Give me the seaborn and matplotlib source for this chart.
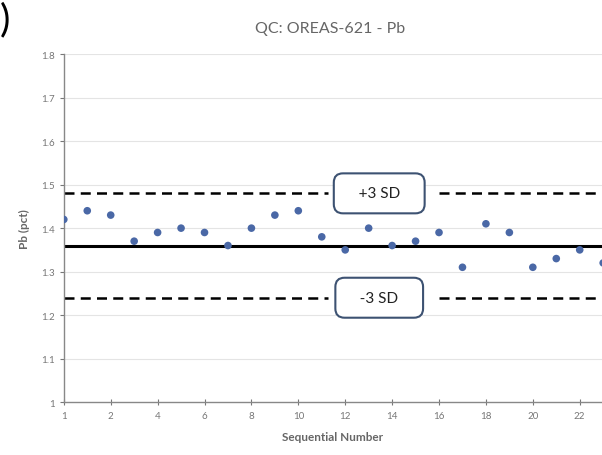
import numpy as np
import pandas as pd
import matplotlib
matplotlib.use("Agg")
import matplotlib.pyplot as plt
import seaborn as sns

# values
seq_number = list(range(1, 25))
pb_pct = [1.42, 1.44, 1.43, 1.37, 1.39, 1.40, 1.39, 1.36, 1.40, 1.43, 1.44, 1.38,
          1.35, 1.40, 1.36, 1.37, 1.39, 1.31, 1.41, 1.39, 1.31, 1.33, 1.35, 1.32]
tick_pos = [1, 3, 5, 7, 9, 11, 13, 15, 17, 19, 21, 23]
tick_labels = ["1", "2", "4", "6", "8", "10", "12", "14", "16", "18", "20", "22"]
y_ticks = [1, 1.1, 1.2, 1.3, 1.4, 1.5, 1.6, 1.7, 1.8]
mean_val = 1.36
upper_sd = 1.48
lower_sd = 1.24

df = pd.DataFrame({"seq": seq_number, "pb": pb_pct})

sns.set_style("white")
plt.rcParams["font.family"] = ["Lato", "DejaVu Sans"]

fig = plt.figure(figsize=(6.02, 4.56), dpi=100)
ax = fig.add_axes([0.106, 0.116, 0.894, 0.763])

# horizontal gridlines
for yv in y_ticks[1:]:
    ax.axhline(yv, color="#e4e4e4", lw=0.8, zorder=0)

# mean and +/-3 SD limits (dashed lines broken around the labels)
ax.axhline(mean_val, color="black", lw=2.2, zorder=2)
gap_lo, gap_hi = 12.25, 17.0
for yv in [upper_sd, lower_sd]:
    ax.plot([1, gap_lo], [yv, yv], color="black", lw=1.8, ls=(0, (4, 2.5)), zorder=2)
    ax.plot([gap_hi, 24.5], [yv, yv], color="black", lw=1.8, ls=(0, (4, 2.5)), zorder=2)

sns.scatterplot(data=df, x="seq", y="pb", ax=ax, color="#4a68a6", s=30,
                edgecolor="none", zorder=3)

for yv, label in [(upper_sd, "   +3 SD   "), (lower_sd, "   -3 SD   ")]:
    ax.text(14.45, yv, label, ha="center", va="center", fontsize=11, color="#222222",
            zorder=5,
            bbox=dict(boxstyle="round,pad=0.85,rounding_size=0.6", fc="white",
                      ec="#3d5272", lw=1.5))

ax.set_xlim(1, 23.95)
ax.set_ylim(1, 1.8)
ax.set_xticks(tick_pos)
ax.set_xticklabels(tick_labels)
ax.set_yticks(y_ticks)
ax.set_yticklabels(["1", "1.1", "1.2", "1.3", "1.4", "1.5", "1.6", "1.7", "1.8"])
ax.tick_params(axis="both", labelsize=7, colors="#777777", length=3, width=0.8,
               direction="out", bottom=True, left=True)
ax.tick_params(axis="x", direction="inout", length=5, pad=4)

for side in ["top", "right"]:
    ax.spines[side].set_visible(False)
for side in ["left", "bottom"]:
    ax.spines[side].set_color("#888888")
    ax.spines[side].set_linewidth(1.0)

ax.set_xlabel("Sequential Number", fontsize=8.5, fontweight="bold", color="#666666",
              labelpad=8)
ax.set_ylabel("Pb (pct)", fontsize=8.5, fontweight="bold", color="#666666", labelpad=8)

fig.text(0.548, 0.937, "QC: OREAS-621 - Pb", ha="center", va="center", fontsize=11.5,
         color="#666666")
fig.text(0.0, 0.955, ")", ha="left", va="center", fontsize=28, color="black")

fig.savefig("out.png", dpi=100)
